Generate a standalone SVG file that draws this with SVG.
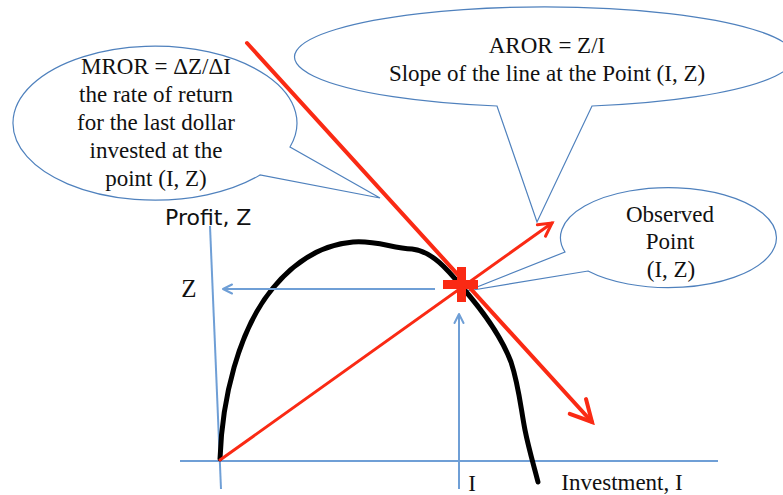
<svg xmlns="http://www.w3.org/2000/svg" width="783" height="495" viewBox="0 0 783 495">
<style>
.callout{fill:#fff;stroke:#4f81bd;stroke-width:1.2}
.axis{stroke:#6f9fd6;stroke-width:2;fill:none}
.serif{font-family:"Liberation Serif","Times New Roman",serif;font-size:23px;fill:#111;text-anchor:middle}
.sans{font-family:"DejaVu Sans","Noto Sans",sans-serif;font-size:22px;fill:#111}
.red{stroke:#fa2a14;fill:none;stroke-linecap:round}
</style>
<defs>
<marker id="blueArrow" markerUnits="userSpaceOnUse" viewBox="0 0 12 12" markerWidth="12" markerHeight="12" refX="10" refY="6" orient="auto">
<path d="M1,1.5 L10,6 L1,10.5" fill="none" stroke="#6f9fd6" stroke-width="2" stroke-linecap="round" stroke-linejoin="round"/>
</marker>
<marker id="redBig" markerUnits="userSpaceOnUse" viewBox="0 0 28 28" markerWidth="28" markerHeight="28" refX="24" refY="14" orient="auto">
<path d="M3,3 L24,14 L3,25" fill="none" stroke="#fa2a14" stroke-width="4" stroke-linecap="round" stroke-linejoin="miter"/>
</marker>
<marker id="redSmall" markerUnits="userSpaceOnUse" viewBox="0 0 20 20" markerWidth="20" markerHeight="20" refX="16" refY="10" orient="auto">
<path d="M3,3 L16,10 L3,17" fill="none" stroke="#fa2a14" stroke-width="3" stroke-linecap="round" stroke-linejoin="miter"/>
</marker>
</defs>
<rect width="783" height="495" fill="#fff"/>

<g id="callout-mror">
<path class="callout" d="M290,147 A142,77 0 1 0 260,175 L380,198 Z"/>
<text class="serif"><tspan x="156" y="74">MROR = ΔZ/ΔI</tspan><tspan x="156" y="102">the rate of return</tspan><tspan x="156" y="130">for the last dollar</tspan><tspan x="156" y="158">invested at the</tspan><tspan x="156" y="186">point (I, Z)</tspan></text>
</g>

<g id="callout-aror">
<path class="callout" d="M497,106 A250,50 0 1 1 592,106 L537,222 Z"/>
<text class="serif"><tspan x="547" y="53">AROR = Z/I</tspan><tspan x="547" y="81">Slope of the line at the Point (I, Z)</tspan></text>
</g>

<g id="callout-point">
<path class="callout" d="M565,252 A108,50 0 1 1 588,271 L467,291 Z"/>
<text class="serif"><tspan x="670" y="222">Observed</tspan><tspan x="670" y="249">Point</tspan><tspan x="671" y="277">(I, Z)</tspan></text>
</g>

<g id="axes">
<line class="axis" x1="210" y1="226" x2="221" y2="489"/>
<line class="axis" x1="180" y1="461" x2="718" y2="461"/>
<text class="sans" x="165" y="225">Profit, Z</text>
<text class="serif" x="189" y="297" style="font-size:25px">Z</text>
<text class="serif" x="472" y="491">I</text>
<text class="serif" x="622" y="490">Investment, I</text>
</g>

<g id="profit-curve">
<path d="M220,459 C222,400 238,330 273,288 C292,265 318,245 353,242 C375,240 392,248 412,249 C432,251 448,270 462,287 C482,310 502,338 511,362 C519,386 521,410 525,430 C529,450 534,466 538,482" fill="none" stroke="#000" stroke-width="5" stroke-linecap="round"/>
</g>

<g id="connectors">
<line class="axis" x1="435" y1="289" x2="223" y2="289" marker-end="url(#blueArrow)"/>
<line class="axis" x1="459" y1="489" x2="459" y2="314" marker-end="url(#blueArrow)"/>
<line class="red" x1="220" y1="460" x2="552" y2="223" stroke-width="3" marker-end="url(#redSmall)"/>
<line class="red" x1="247" y1="43" x2="592" y2="422" stroke-width="4" marker-end="url(#redBig)"/>
</g>

<g id="observed-point" fill="#fa2a14">
<rect x="443" y="280" width="35" height="9"/>
<rect x="457" y="267" width="9" height="35"/>
</g>
</svg>
